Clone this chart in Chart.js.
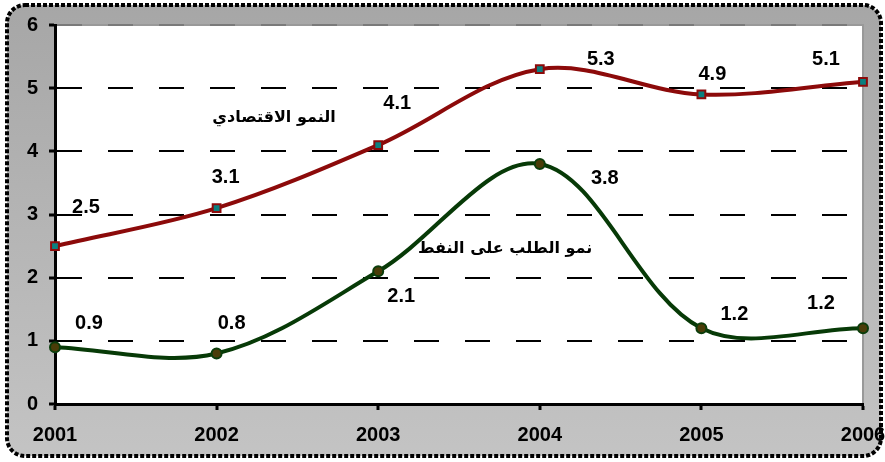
<!DOCTYPE html>
<html>
<head>
<meta charset="utf-8">
<script src="https://cdn.jsdelivr.net/npm/chart.js@4"></script>
<style>
  html, body { margin: 0; padding: 0; background: #fff; }
  #wrap { width: 885px; height: 462px; }
</style>
</head>
<body>
<div id="wrap"><canvas id="growthChart" width="885" height="462"></canvas></div>
<script>
// chart data
const years = ['2001', '2002', '2003', '2004', '2005', '2006'];
const economicGrowth = [2.5, 3.1, 4.1, 5.3, 4.9, 5.1];
const oilDemandGrowth = [0.9, 0.8, 2.1, 3.8, 1.2, 1.2];
const seriesNames = ['النمو الاقتصادي', 'نمو الطلب على النفط'];
const yTicks = [0, 1, 2, 3, 4, 5, 6];

// pixel offsets of the value labels from each point
const labelOffsets = [
  [[31, -39], [9, -31], [19, -42], [61, -10], [11, -20], [-37, -22]],
  [[34, -24], [15, -30], [23, 25], [65, 15], [33, -14], [-42, -25]]
];
// where the series names sit (x as category index, y as value)
const namePos = [[1.355, 4.53], [2.785, 2.45]];

const FONT = 'Arial, "Liberation Sans", "DejaVu Sans", sans-serif';

const frame = {
  id: 'frame',
  beforeDraw(chart) {
    const c = chart.ctx;
    const a = chart.chartArea;
    c.save();
    c.fillStyle = '#fff';
    c.fillRect(0, 0, chart.width, chart.height);
    const g = c.createLinearGradient(0, 0, 0, chart.height);
    g.addColorStop(0, '#a6a6a6');
    g.addColorStop(1, '#c4c4c4');
    c.beginPath();
    c.roundRect(7, 5, 874, 451, 18);
    c.fillStyle = g;
    c.fill();
    c.lineWidth = 4;
    c.strokeStyle = '#000';
    c.setLineDash([4, 2]);
    c.stroke();
    c.setLineDash([]);
    c.fillStyle = '#fff';
    c.fillRect(a.left, a.top, a.right - a.left, a.bottom - a.top);
    c.strokeStyle = '#999';
    c.lineWidth = 2;
    c.strokeRect(a.left, a.top, a.right - a.left, a.bottom - a.top);
    c.restore();
  },
  afterDatasetsDraw(chart) {
    const c = chart.ctx;
    c.save();
    c.fillStyle = '#000';
    c.textAlign = 'center';
    c.textBaseline = 'middle';
    c.font = 'bold 20px ' + FONT;
    chart.data.datasets.forEach((ds, i) => {
      chart.getDatasetMeta(i).data.forEach((pt, j) => {
        const off = labelOffsets[i][j];
        c.fillText(ds.data[j].toFixed(1), pt.x + off[0], pt.y + off[1]);
      });
    });
    c.font = 'bold 16px "DejaVu Sans", sans-serif';
    c.direction = 'rtl';
    seriesNames.forEach((name, i) => {
      const x = chart.scales.x.getPixelForValue(namePos[i][0]);
      const y = chart.scales.y.getPixelForValue(namePos[i][1]);
      c.fillText(name, x, y);
    });
    c.restore();
  }
};

const ctx = document.getElementById('growthChart').getContext('2d');
const chart = new Chart(ctx, {
  type: 'line',
  data: {
    labels: years,
    datasets: [
      {
        label: seriesNames[0],
        data: economicGrowth,
        borderColor: '#8c0a0a',
        borderWidth: 4,
        tension: 0.34,
        pointStyle: 'rect',
        pointRadius: 5.5,
        pointBorderWidth: 2,
        pointBorderColor: '#8c0a0a',
        pointBackgroundColor: '#0a8080',
        clip: false
      },
      {
        label: seriesNames[1],
        data: oilDemandGrowth,
        borderColor: '#073a07',
        borderWidth: 4,
        tension: 0.34,
        pointStyle: 'circle',
        pointRadius: 5,
        pointBorderWidth: 2,
        pointBorderColor: '#0b3d0b',
        pointBackgroundColor: '#4a3c08',
        clip: false
      }
    ]
  },
  options: {
    responsive: false,
    animation: false,
    layout: { padding: { top: 25, right: 22, left: 0, bottom: 0 } },
    plugins: {
      legend: { display: false },
      tooltip: { enabled: false }
    },
    scales: {
      x: {
        offset: false,
        afterFit(scale) {
          scale.height = 58;
          scale.paddingLeft = 0;
          scale.paddingRight = 0;
        },
        border: { color: '#000', width: 3 },
        grid: {
          color: (c) => c.index === years.length - 1 ? '#999' : 'rgba(0,0,0,0)',
          lineWidth: 2,
          tickColor: '#000',
          tickWidth: 3,
          tickLength: 6
        },
        ticks: {
          padding: 13,
          maxRotation: 0,
          color: '#000',
          font: { family: FONT, size: 20, weight: 'bold' }
        }
      },
      y: {
        min: 0,
        max: 6,
        afterFit(scale) {
          scale.width = 55;
          scale.paddingTop = 0;
          scale.paddingBottom = 0;
        },
        afterBuildTicks(scale) { scale.ticks = yTicks.map(v => ({ value: v })); },
        border: { color: '#000', width: 3, dash: [25, 26] },
        grid: {
          color: (c) => c.tick.value === 6 ? '#7a7a7a' : (c.tick.value === 0 ? 'rgba(0,0,0,0)' : '#000'),
          lineWidth: 2,
          tickBorderDash: [],
          tickColor: '#000',
          tickWidth: 3,
          tickLength: 6
        },
        ticks: {
          padding: 11,
          color: '#000',
          font: { family: FONT, size: 20, weight: 'bold' }
        }
      }
    }
  },
  plugins: [frame]
});
</script>
</body>
</html>
